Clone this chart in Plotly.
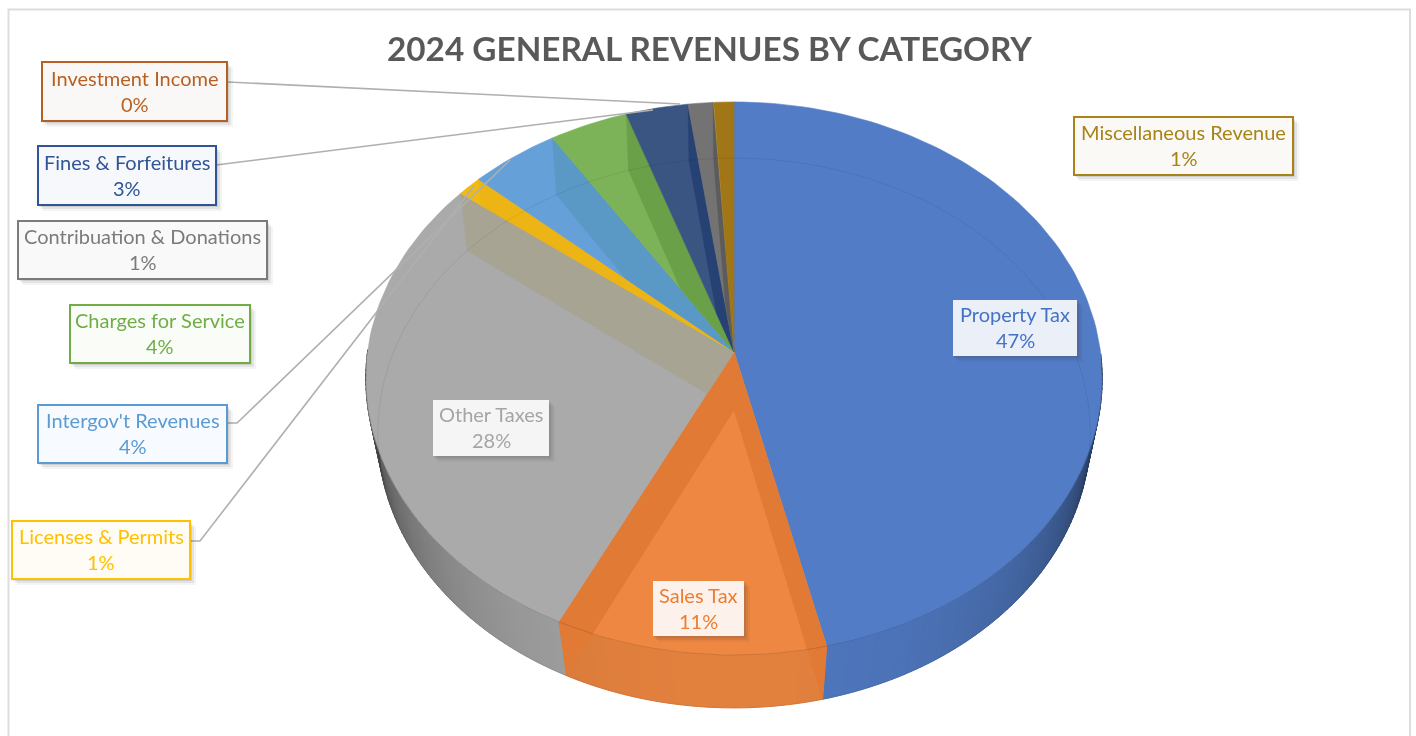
import math
import plotly.graph_objects as go

# ---------- data ----------
categories = ["Property Tax", "Sales Tax", "Other Taxes", "Licenses & Permits", "Intergov't Revenues",
              "Charges for Service", "Fines & Forfeitures", "Contribuation & Donations",
              "Investment Income", "Miscellaneous Revenue"]
values = [46.32, 10.88, 28.3, 1.2, 4.3, 3.8, 3.0, 1.2, 0.03, 0.97]
percent_labels = ["47%", "11%", "28%", "1%", "4%", "4%", "3%", "1%", "0%", "1%"]
face_colors = [(82, 124, 198), (238, 135, 65), (170, 170, 170), (241, 186, 18), (101, 160, 216),
               (124, 178, 88), (58, 85, 130), (115, 115, 115), (190, 95, 40), (160, 118, 22)]
wall_colors = [(74, 112, 180), (224, 122, 52), (168, 164, 148), (236, 180, 20), (90, 152, 198),
               (106, 160, 72), (38, 65, 115), (92, 92, 92), (170, 85, 35), (146, 110, 26)]
label_colors = ["#4472C4", "#ED7D31", "#A5A5A5", "#FFC000", "#5B9BD5",
                "#70AD47", "#2F5597", "#7B7B7B", "#B85F22", "#A88317"]
# label boxes: left, top, right, bottom (pixels on the hidden axes)
label_boxes = [(953, 300, 1077, 356), (653, 581, 744, 636), (433, 400, 549, 456), (12, 521, 190, 579),
               (38, 405, 227, 463), (70, 305, 250, 363), (38, 146, 216, 205), (18, 221, 267, 279),
               (42, 62, 227, 121), (1074, 117, 1293, 175)]
label_fills = ["#EBF0F8", "#FCF1EB", "#F5F5F5", "#FEFCF5", "#F7FAFE", "#FAFCF8", "#F7F8FB", "#F9F9F9", "#FAF8F6", "#FAF9F5"]
bordered = [False, False, False, True, True, True, True, True, True, True]
leaders = [[(228, 82), (680, 104)],
           [(216, 165), (653, 110)],
           [(227, 423), (237, 423), (510, 160)],
           [(190, 541), (200, 541), (474, 186)]]
title = "2024 GENERAL REVENUES BY CATEGORY"

FONT = "Lato, Carlito, Calibri, sans-serif"
TOP = dict(cx=734, cy=352, a=274, b=366.5, k=-0.0958)
BOT = dict(cx=734, cy=410, a=273, b=355, k=-0.0836)


def project(disc, deg, r=1.0):
    t = math.radians(deg)
    u, v = r * math.sin(t), -r * math.cos(t)
    den = 1 + disc["k"] * v
    return disc["cx"] + disc["b"] * u / den, disc["cy"] + disc["a"] * v / den


def rgb(c, f=1.0):
    return "rgb(%d,%d,%d)" % tuple(max(0, min(255, round(x * f))) for x in c)


def clip_half(poly, a, b):
    def side(p):
        return (b[0] - a[0]) * (p[1] - a[1]) - (b[1] - a[1]) * (p[0] - a[0])
    out = []
    for i, p in enumerate(poly):
        q = poly[(i + 1) % len(poly)]
        sp, sq = side(p), side(q)
        if sp >= 0:
            out.append(p)
        if sp * sq < 0:
            s = sp / (sp - sq)
            out.append((p[0] + s * (q[0] - p[0]), p[1] + s * (q[1] - p[1])))
    return out


fig = go.Figure()


def poly_trace(pts, color, line_color=None, line_width=0.6):
    xs = [p[0] for p in pts] + [pts[0][0]]
    ys = [p[1] for p in pts] + [pts[0][1]]
    fig.add_trace(go.Scatter(x=xs, y=ys, mode="lines", fill="toself", fillcolor=color,
                             line=dict(color=line_color or color, width=line_width),
                             hoverinfo="skip", showlegend=False))


total = sum(values)
angles = [0.0]
for val in values:
    angles.append(angles[-1] + 360 * val / total)

# outer side wall, shaded by segment, front part only
STEP = 1.0
for i in range(len(values)):
    a0, a1 = angles[i], angles[i + 1]
    n = max(1, int((a1 - a0) / STEP))
    for j in range(n):
        s, e = a0 + (a1 - a0) * j / n, a0 + (a1 - a0) * (j + 1) / n
        mid = (s + e) / 2
        if not 90 < mid < 270:
            continue
        d = abs(mid - 180)
        f = 0.95 - 0.75 * (d / 90) ** 2.5
        poly_trace([project(TOP, s), project(TOP, e), project(BOT, e), project(BOT, s)], rgb(face_colors[i], f),
                   line_width=1.0)

# top faces with the radial walls seen through them
ap_t = project(TOP, 0, 0)
ap_b = project(BOT, 0, 0)
for i in range(len(values)):
    a0, a1 = angles[i], angles[i + 1]
    if a1 - a0 < 0.5:
        continue
    n = max(2, int((a1 - a0) / 1.5) + 1)
    arc = [project(TOP, a0 + (a1 - a0) * j / n) for j in range(n + 1)]
    poly_trace([ap_t] + arc, rgb(face_colors[i]))
    for i_ang in (a0, a1):
        quad = [ap_t, project(TOP, i_ang), project(BOT, i_ang), ap_b]
        clipped = clip_half(quad, ap_t, project(TOP, a0))
        if clipped:
            clipped = clip_half(clipped, project(TOP, a1), ap_t)
        if len(clipped) >= 3:
            poly_trace(clipped, rgb(wall_colors[i]), line_width=0.3)

# rims: bottom disc seen through the top, and top front edge
deg = [x * 2.0 for x in range(181)]
fig.add_trace(go.Scatter(x=[project(BOT, a)[0] for a in deg], y=[project(BOT, a)[1] for a in deg], mode="lines",
                         line=dict(color="rgba(0,0,0,0.07)", width=1), hoverinfo="skip", showlegend=False))
front = [a for a in deg if 92 <= a <= 268]
fig.add_trace(go.Scatter(x=[project(TOP, a)[0] for a in front], y=[project(TOP, a)[1] for a in front], mode="lines",
                         line=dict(color="rgba(0,0,0,0.13)", width=1), hoverinfo="skip", showlegend=False))

# leader lines
for pts in leaders:
    fig.add_trace(go.Scatter(x=[p[0] for p in pts], y=[p[1] for p in pts], mode="lines",
                             line=dict(color="rgb(175,175,175)", width=1.6), hoverinfo="skip", showlegend=False))

# labels
shapes = [dict(type="rect", x0=8.5, y0=9.5, x1=1410, y1=760, line=dict(color="#DDDDDD", width=2), fillcolor="rgba(0,0,0,0)", layer="below")]
annotations = [dict(text="<b>%s</b>" % title, x=709, y=48, xref="x", yref="y", showarrow=False,
                    font=dict(family=FONT, size=33.3, color="#595959"))]
for name, pct, box, col, fill, has_border in zip(categories, percent_labels, label_boxes, label_colors, label_fills, bordered):
    x0, y0, x1, y1 = box
    for off, alpha in ((6, 0.06), (4, 0.09), (2, 0.12)):
        shapes.append(dict(type="rect", x0=x0 + off - 1, y0=y0 + off, x1=x1 + off, y1=y1 + off, layer="above",
                           line=dict(width=0), fillcolor="rgba(60,60,60,%s)" % alpha))
    shapes.append(dict(type="rect", x0=x0, y0=y0, x1=x1, y1=y1, layer="above", fillcolor=fill,
                       line=dict(color=col if has_border else fill, width=2 if has_border else 0)))
    mx, my = (x0 + x1) / 2, (y0 + y1) / 2
    for txt, dy in ((name, -13), (pct, 13)):
        annotations.append(dict(text=txt, x=mx, y=my + dy - 1, xref="x", yref="y", showarrow=False,
                                font=dict(family=FONT, size=20, color=col)))

fig.update_layout(width=1416, height=736, margin=dict(l=0, r=0, t=0, b=0), paper_bgcolor="white", plot_bgcolor="white",
                  showlegend=False, shapes=shapes, annotations=annotations,
                  xaxis=dict(range=[0, 1416], visible=False, fixedrange=True),
                  yaxis=dict(range=[736, 0], visible=False, fixedrange=True))
fig.write_html("out.html", config=dict(displayModeBar=False),
               post_script="document.body.style.margin='0';document.body.style.overflow='hidden';"
                           "document.querySelector('.plotly-graph-div').style.filter='blur(0.6px)';")
